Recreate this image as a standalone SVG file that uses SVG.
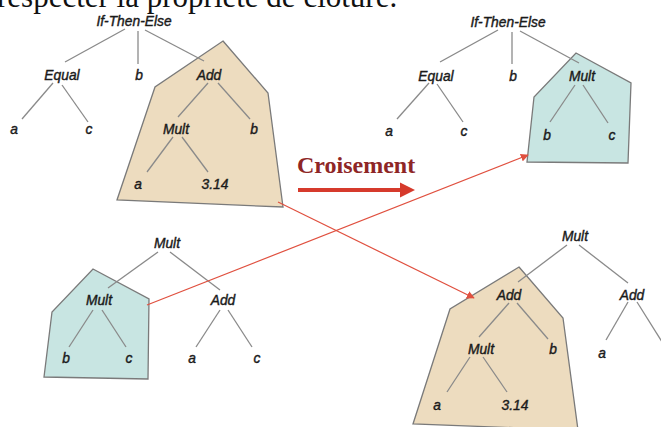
<svg xmlns="http://www.w3.org/2000/svg" width="661" height="427" viewBox="0 0 661 427">
  <style>
    .lbl { font-family: "Liberation Sans", Arial, sans-serif; font-style: italic; font-size: 13.8px; fill: #1a1a1a; stroke: #1a1a1a; stroke-width: 0.4; text-anchor: middle; }
    .edge { stroke: #8a8a8a; stroke-width: 1.3; fill: none; }
    .tan { fill: #eddcbf; stroke: #7a7a7a; stroke-width: 1.3; }
    .teal { fill: #c8e5e2; stroke: #7a7a7a; stroke-width: 1.3; }
    .link { stroke: #e0503f; stroke-width: 1.2; fill: none; marker-end: url(#tip); }
    .title { font-family: "Liberation Serif", "Times New Roman", serif; font-size: 31px; fill: #111; }
    .cross { font-family: "Liberation Serif", "Times New Roman", serif; font-size: 24px; font-weight: bold; fill: #8e2626; }
  </style>
  <defs>
    <marker id="tip" viewBox="0 0 10 10" refX="9" refY="5" markerWidth="8" markerHeight="8" markerUnits="userSpaceOnUse" orient="auto">
      <path d="M0,0 L10,5 L0,10 Z" fill="#e0503f"/>
    </marker>
  </defs>

  <!-- heading line, cut at the top edge -->
  <text class="title" x="-3" y="7">respecter la propriété de clôture.</text>

  <!-- highlighted subtrees -->
  <g id="subtree-parent1">
    <polygon class="tan" points="223,41 268,93 283,207 117,200 155,87"/>
  </g>
  <g id="subtree-child1">
    <polygon class="teal" points="576,53 631,83 628,163 527,162 534,97"/>
  </g>
  <g id="subtree-parent2">
    <polygon class="teal" points="93,269 149,299 148,379 44,377 52,312"/>
  </g>
  <g id="subtree-child2">
    <polygon class="tan" points="519,267 563,318 578,430 413,424 450,309"/>
  </g>

  <!-- tree edges -->
  <g id="edges">
    <!-- parent 1 -->
    <line class="edge" x1="125" y1="29" x2="65" y2="62"/>
    <line class="edge" x1="138" y1="31" x2="138" y2="64"/>
    <line class="edge" x1="145" y1="30" x2="204" y2="61"/>
    <line class="edge" x1="53" y1="83" x2="22" y2="119"/>
    <line class="edge" x1="62" y1="85" x2="88" y2="122"/>
    <line class="edge" x1="208" y1="83" x2="178" y2="117"/>
    <line class="edge" x1="218" y1="83" x2="250" y2="119"/>
    <line class="edge" x1="173" y1="137" x2="147" y2="172"/>
    <line class="edge" x1="182" y1="137" x2="208" y2="172"/>
    <!-- child 1 -->
    <line class="edge" x1="498" y1="30" x2="440" y2="62"/>
    <line class="edge" x1="512" y1="32" x2="512" y2="64"/>
    <line class="edge" x1="520" y1="31" x2="579" y2="63"/>
    <line class="edge" x1="429" y1="83" x2="397" y2="119"/>
    <line class="edge" x1="437" y1="84" x2="463" y2="122"/>
    <line class="edge" x1="575" y1="85" x2="550" y2="122"/>
    <line class="edge" x1="583" y1="85" x2="608" y2="123"/>
    <!-- parent 2 -->
    <line class="edge" x1="158" y1="252" x2="108" y2="288"/>
    <line class="edge" x1="170" y1="252" x2="220" y2="290"/>
    <line class="edge" x1="93" y1="310" x2="69" y2="347"/>
    <line class="edge" x1="102" y1="310" x2="126" y2="347"/>
    <line class="edge" x1="220" y1="310" x2="196" y2="347"/>
    <line class="edge" x1="228" y1="310" x2="252" y2="347"/>
    <!-- child 2 -->
    <line class="edge" x1="567" y1="245" x2="518" y2="282"/>
    <line class="edge" x1="579" y1="245" x2="628" y2="283"/>
    <line class="edge" x1="509" y1="303" x2="479" y2="337"/>
    <line class="edge" x1="517" y1="303" x2="548" y2="339"/>
    <line class="edge" x1="628" y1="302" x2="606" y2="340"/>
    <line class="edge" x1="637" y1="302" x2="664" y2="345"/>
    <line class="edge" x1="470" y1="357" x2="447" y2="392"/>
    <line class="edge" x1="483" y1="357" x2="507" y2="392"/>
    <!-- subtree swaps -->
    <line class="link" x1="278" y1="202" x2="474" y2="298"/>
    <line class="link" x1="147" y1="305" x2="528" y2="155"/>
  </g>

  <!-- node labels: parent 1 -->
  <g id="p1-labels">
    <text class="lbl" x="134" y="26">If-Then-Else</text>
    <text class="lbl" x="62" y="80">Equal</text>
    <text class="lbl" x="139" y="80">b</text>
    <text class="lbl" x="209" y="80">Add</text>
    <text class="lbl" x="14" y="134">a</text>
    <text class="lbl" x="89" y="134">c</text>
    <text class="lbl" x="176" y="134">Mult</text>
    <text class="lbl" x="254" y="134">b</text>
    <text class="lbl" x="138" y="189">a</text>
    <text class="lbl" x="215" y="189">3.14</text>
  </g>

  <!-- node labels: child 1 -->
  <g id="c1-labels">
    <text class="lbl" x="508" y="27">If-Then-Else</text>
    <text class="lbl" x="436" y="81">Equal</text>
    <text class="lbl" x="513" y="81">b</text>
    <text class="lbl" x="582" y="81">Mult</text>
    <text class="lbl" x="389" y="136">a</text>
    <text class="lbl" x="464" y="136">c</text>
    <text class="lbl" x="547" y="140">b</text>
    <text class="lbl" x="612" y="140">c</text>
  </g>

  <!-- node labels: parent 2 -->
  <g id="p2-labels">
    <text class="lbl" x="167" y="248">Mult</text>
    <text class="lbl" x="99" y="305">Mult</text>
    <text class="lbl" x="223" y="305">Add</text>
    <text class="lbl" x="66" y="363">b</text>
    <text class="lbl" x="129" y="363">c</text>
    <text class="lbl" x="192" y="363">a</text>
    <text class="lbl" x="257" y="363">c</text>
  </g>

  <!-- node labels: child 2 -->
  <g id="c2-labels">
    <text class="lbl" x="575" y="241">Mult</text>
    <text class="lbl" x="509" y="300">Add</text>
    <text class="lbl" x="632" y="300">Add</text>
    <text class="lbl" x="481" y="354">Mult</text>
    <text class="lbl" x="553" y="354">b</text>
    <text class="lbl" x="602" y="358">a</text>
    <text class="lbl" x="437" y="410">a</text>
    <text class="lbl" x="515" y="410">3.14</text>
  </g>

  <!-- crossover caption -->
  <g id="crossover">
    <text class="cross" x="297" y="173">Croisement</text>
    <line x1="298" y1="190" x2="402" y2="190" stroke="#d63a2c" stroke-width="4"/>
    <polygon points="400,182.5 415,190 400,197.5" fill="#d63a2c"/>
  </g>
</svg>
